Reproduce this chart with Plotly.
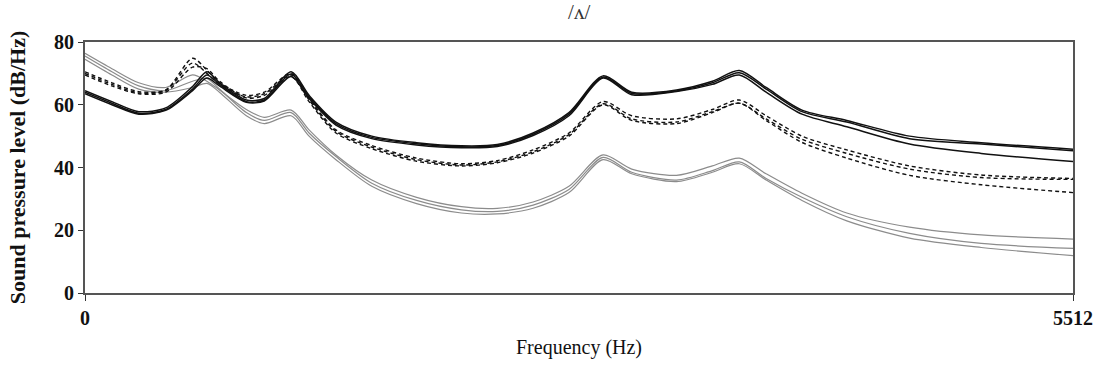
import plotly.graph_objects as go

# Frequency grid (Hz) at which the spectral envelopes are sampled
freq_hz = [0, 150, 300, 450, 600, 680, 750, 900, 1000, 1150, 1250, 1400, 1600, 1850,
           2100, 2300, 2500, 2700, 2890, 3050, 3300, 3500, 3650, 3800, 4000, 4250,
           4600, 5000, 5512]

# Solid black envelopes (dB/Hz)
solid_a = [64.5, 61.0, 57.8, 59.0, 65.8, 70.5, 67.0, 61.5, 62.0, 70.5, 63.0, 54.5, 50.0, 47.9,
           46.9, 47.3, 51.0, 57.5, 69.2, 64.0, 64.7, 67.5, 70.9, 65.5, 58.3, 55.0, 50.0, 47.9, 45.8]
solid_b = [64.0, 60.5, 57.3, 58.5, 65.0, 69.5, 66.5, 61.0, 61.5, 69.8, 62.5, 54.0, 49.6, 47.6,
           46.6, 47.0, 50.6, 57.0, 68.8, 63.6, 64.4, 67.0, 70.2, 65.0, 57.8, 54.5, 49.2, 47.5, 45.3]
solid_c = [63.5, 60.0, 57.0, 58.2, 64.5, 68.5, 66.0, 60.8, 61.2, 69.0, 62.0, 53.5, 49.2, 47.2,
           46.3, 46.7, 50.2, 56.5, 68.5, 63.2, 64.2, 66.5, 69.5, 64.0, 57.0, 53.0, 47.5, 44.5, 41.9]

# Dashed black envelopes (dB/Hz)
dash_a = [70.5, 67.0, 64.2, 64.7, 74.8, 71.0, 67.0, 63.0, 64.0, 70.0, 62.0, 52.0, 47.0, 43.0,
          41.2, 42.2, 45.6, 51.0, 61.0, 56.5, 55.5, 58.5, 61.5, 56.5, 50.0, 45.6, 40.5, 37.6, 36.5]
dash_b = [70.0, 66.5, 63.8, 64.5, 73.3, 70.0, 66.5, 62.5, 63.5, 69.5, 61.5, 51.5, 46.5, 42.5,
          40.8, 41.8, 45.0, 50.5, 60.3, 55.5, 54.5, 57.8, 60.5, 55.5, 49.0, 44.5, 39.5, 36.8, 36.2]
dash_c = [69.5, 66.0, 63.5, 64.0, 72.0, 71.5, 67.5, 62.2, 63.0, 69.0, 61.0, 51.0, 46.0, 42.0,
          40.5, 41.5, 44.6, 50.0, 60.0, 55.0, 54.0, 57.5, 60.5, 55.0, 48.0, 43.0, 37.5, 34.5, 32.0]

# Grey envelopes (dB/Hz)
grey_a = [76.4, 71.5, 67.0, 65.5, 69.5, 67.5, 64.7, 58.5, 56.0, 58.3, 52.0, 44.0, 36.0, 30.5,
          27.5, 27.0, 29.0, 34.0, 44.0, 39.5, 37.5, 40.5, 43.0, 38.0, 31.8, 25.5, 21.0, 18.5, 17.2]
grey_b = [75.5, 70.5, 66.0, 64.5, 67.5, 68.4, 65.0, 57.5, 55.0, 57.5, 51.0, 43.5, 35.0, 29.5,
          26.5, 26.0, 28.0, 33.0, 43.2, 38.5, 36.0, 39.0, 41.8, 36.5, 30.5, 24.3, 19.0, 15.8, 14.2]
grey_c = [74.5, 69.5, 65.0, 64.0, 65.5, 66.8, 64.0, 56.5, 54.0, 56.5, 50.0, 42.5, 34.0, 28.5,
          25.5, 25.2, 27.0, 32.0, 42.5, 38.0, 35.5, 38.5, 41.2, 36.0, 29.5, 23.0, 17.5, 14.5, 11.9]

y_ticks = [0, 20, 40, 60, 80]
x_ticks = [0, 5512]

SERIF = "Liberation Serif, Times New Roman, serif"

fig = go.Figure()

for ys in (grey_a, grey_b, grey_c):
    fig.add_trace(go.Scatter(x=freq_hz, y=ys, mode="lines",
                             line=dict(color="#8c8c8c", width=1.2, shape="spline", smoothing=0.8),
                             showlegend=False, hoverinfo="skip"))

for ys in (dash_a, dash_b, dash_c):
    fig.add_trace(go.Scatter(x=freq_hz, y=ys, mode="lines",
                             line=dict(color="#111111", width=1.4, dash="4px,3px",
                                       shape="spline", smoothing=0.8),
                             showlegend=False, hoverinfo="skip"))

for ys in (solid_a, solid_b, solid_c):
    fig.add_trace(go.Scatter(x=freq_hz, y=ys, mode="lines",
                             line=dict(color="#111111", width=1.5, shape="spline", smoothing=0.8),
                             showlegend=False, hoverinfo="skip"))

fig.update_layout(
    width=1100, height=367,
    margin=dict(l=85, r=27, t=42, b=74),
    paper_bgcolor="white", plot_bgcolor="white",
    title=dict(text="/ʌ/", x=0.5265, xanchor="center", y=0.968, yanchor="middle",
               font=dict(family=SERIF, size=21, color="#333333")),
    font=dict(family=SERIF, color="#111111"),
)

fig.update_xaxes(
    range=[0, 5512], tickvals=x_ticks, ticktext=[str(v) for v in x_ticks],
    showgrid=False, zeroline=False,
    showline=True, linecolor="#555555", linewidth=2, mirror=True,
    ticks="outside", ticklen=6, tickcolor="#333333",
    tickfont=dict(family=SERIF, size=20, color="#111111", weight="bold"),
    title=dict(text="Frequency (Hz)", standoff=12,
               font=dict(family=SERIF, size=20, color="#111111")),
    automargin=False,
)

fig.update_yaxes(
    range=[0, 80], tickvals=y_ticks,
    showgrid=False, zeroline=False,
    showline=True, linecolor="#555555", linewidth=2, mirror=True,
    ticks="outside", ticklen=5, tickcolor="#333333",
    tickfont=dict(family=SERIF, size=20, color="#111111", weight="bold"),
    title=dict(text="<b>Sound pressure level (dB/Hz)</b>", standoff=22,
               font=dict(family=SERIF, size=22, color="#111111")),
    automargin=False,
)

fig.write_html("out.html")
